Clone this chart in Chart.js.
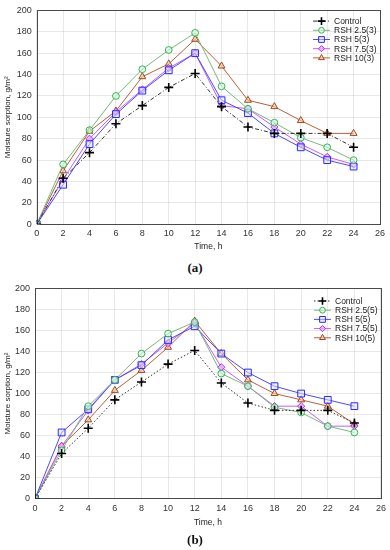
<!DOCTYPE html>
<html><head><meta charset="utf-8">
<script src="https://cdn.jsdelivr.net/npm/chart.js@4/dist/chart.umd.min.js"></script>
<style>
html,body{margin:0;padding:0;background:#fff;width:390px;height:550px;overflow:hidden;}
canvas{position:absolute;left:0;}
.cap{position:absolute;width:390px;left:0;text-align:center;font:bold 13px "Liberation Serif","DejaVu Serif",serif;color:#111;}
</style></head>
<body>
<canvas id="ca" width="390" height="258" style="top:0"></canvas>
<div class="cap" style="top:260px">(a)</div>
<canvas id="cb" width="390" height="256" style="top:278px"></canvas>
<div class="cap" style="top:532px">(b)</div>
<script>
// ---- data ----
const times = [0,2,4,6,8,10,12,14,16,18,20,22,24];
const xTicks = [0,2,4,6,8,10,12,14,16,18,20,22,24,26];
const yTicks = [0,20,40,60,80,100,120,140,160,180,200];

const labelsA = ["Control","RSH 2.5(3)","RSH 5(3)","RSH 7.5(3)","RSH 10(3)"];
const a_control = [0,43,67,94,111,128,141,110,91,85,85,85,72];
const a_rsh25   = [0,56,88,120,145,163,179,129,108,95,81,72,60];
const a_rsh5    = [0,37,75,103,125,144,160,116,104,85,72,60,54];
const a_rsh75   = [0,42,80,105,126,146,160,111,108,91,75,63,56];
const a_rsh10   = [0,50,87,106,138,150,173,148,116,110,97,85,85];

const labelsB = ["Control","RSH 2.5(5)","RSH 5(5)","RSH 7.5(5)","RSH 10(5)"];
const b_control = [0,43,67,94,111,128,141,110,91,84,84,84,72];
const b_rsh25   = [0,46,88,113,138,157,168,119,107,87,82,69,63];
const b_rsh5    = [0,63,85,113,127,151,164,138,120,107,100,94,88];
const b_rsh75   = [0,50,84,113,128,148,167,125,107,88,88,69,69];
const b_rsh10   = [0,50,75,103,122,144,169,138,113,100,94,88,71];

// ---- styles ----
const styles = [
  {line:'#333333', pt:'cross', r:4.5, bc:'#000', bg:'#000', bw:1.6},
  {line:'#7ab87a', pt:'circle', r:3.4, bc:'#3cb054', bg:'rgba(210,255,225,0.6)', bw:1},
  {line:'#4a4aff', pt:'rect', r:4.8, bc:'#2a2aff', bg:'rgba(225,225,255,0.5)', bw:1},
  {line:'#c45cff', pt:'rectRot', r:3.6, bc:'#b030f0', bg:'rgba(235,170,255,0.8)', bw:1},
  {line:'#b8603a', pt:'triangle', r:4, bc:'#9a4a1a', bg:'rgba(255,200,170,0.6)', bw:1}
];

function pts(arr){ return times.map((t,i)=>({x:t,y:arr[i]})); }

function makeDatasets(labels, series, ctrlDash){
  return series.map((s,i)=>{
    const st = styles[i];
    return {
      label: labels[i], data: pts(s),
      borderColor: st.line, borderWidth: 1, borderDash: i===0 ? ctrlDash : [],
      pointStyle: st.pt, pointRadius: st.r, pointBorderColor: st.bc,
      pointBackgroundColor: st.bg, pointBorderWidth: st.bw,
      fill:false, tension:0
    };
  });
}

const framePlugin = {
  id:'frame',
  beforeDatasetsDraw(chart){
    const {ctx, chartArea:a} = chart;
    ctx.save(); ctx.strokeStyle='#4a4a4a'; ctx.lineWidth=1;
    ctx.strokeRect(Math.round(a.left)+0.5, Math.round(a.top)+0.5, Math.round(a.right-a.left), Math.round(a.bottom-a.top));
    ctx.restore();
  },
  afterDraw(chart){
    const o = chart.options.plugins.frame;
    const {ctx, chartArea:a} = chart;
    ctx.save();
    chart.data.datasets.forEach((ds,i)=>{
      const y = a.top + o.legTop + i*9.2;
      const x0 = a.right - o.legRight;
      ctx.strokeStyle = ds.borderColor; ctx.lineWidth = 1;
      ctx.setLineDash(ds.borderDash || []);
      ctx.beginPath(); ctx.moveTo(x0, y); ctx.lineTo(x0+17, y); ctx.stroke();
      ctx.setLineDash([]);
      Chart.helpers.drawPoint(ctx, {pointStyle: ds.pointStyle, radius: ds.pointRadius*0.85, borderWidth: ds.pointBorderWidth, rotation:0}, x0+8.5, y);
      ctx.fillStyle = ds.pointBackgroundColor; ctx.strokeStyle = ds.pointBorderColor;
      ctx.beginPath();
      ctx.fillStyle='#222'; ctx.font='8.5px "Liberation Sans", Arial, sans-serif';
      ctx.textBaseline='middle'; ctx.textAlign='left';
      ctx.fillText(ds.label, x0+21, y+0.5);
    });
    ctx.restore();
  }
};

// drawPoint needs stroke/fill set before; wrap
const origDraw = Chart.helpers.drawPoint;

function makeChart(id, labels, series, ctrlDash, geo){
  const H = geo.H;
  return new Chart(document.getElementById(id), {
    type:'line',
    data:{datasets: makeDatasets(labels, series, ctrlDash)},
    options:{
      responsive:false, animation:false, devicePixelRatio:1,
      layout:{padding:{top:geo.top, right:geo.right, bottom:0, left:0}},
      plugins:{legend:{display:false}, tooltip:{enabled:false},
        frame:{legTop:geo.legTop, legRight:geo.legRight}},
      scales:{
        x:{type:'linear', min:0, max:26,
          afterBuildTicks(s){ s.ticks = xTicks.map(v=>({value:v})); },
          afterFit(s){ s.height = H - geo.bottom; },
          grid:{color:'rgba(0,0,0,0.09)', drawTicks:false, lineWidth:1},
          border:{display:false},
          ticks:{padding:4, color:'#333', font:{size:9, family:'"Liberation Sans", Arial, sans-serif'}, maxRotation:0},
          title:{display:true, text:'Time, h', color:'#222', padding:{top:2,bottom:geo.xtPad}, font:{size:8.5, family:'"Liberation Sans", Arial, sans-serif'}}
        },
        y:{type:'linear', min:0, max:200,
          afterBuildTicks(s){ s.ticks = yTicks.map(v=>({value:v})); },
          afterFit(s){ s.width = geo.left; },
          grid:{color:'rgba(0,0,0,0.09)', drawTicks:false, lineWidth:1},
          border:{display:false},
          ticks:{padding:5, color:'#333', font:{size:9, family:'"Liberation Sans", Arial, sans-serif'}},
          title:{display:true, text:'Moisture sorption, g/m²', color:'#222', padding:{top:3,bottom:0}, font:{size:8, family:'"Liberation Sans", Arial, sans-serif'}}
        }
      }
    },
    plugins:[framePlugin]
  });
}

// Patch legend marker drawing colours
framePlugin.afterDraw = function(chart){
  const o = chart.options.plugins.frame;
  const {ctx, chartArea:a} = chart;
  ctx.save();
  chart.data.datasets.forEach((ds,i)=>{
    const y = a.top + o.legTop + i*9.2;
    const x0 = a.right - o.legRight;
    ctx.strokeStyle = ds.borderColor; ctx.lineWidth = 1;
    ctx.setLineDash(ds.borderDash || []);
    ctx.beginPath(); ctx.moveTo(x0, y); ctx.lineTo(x0+17, y); ctx.stroke();
    ctx.setLineDash([]);
    ctx.fillStyle = ds.pointBackgroundColor; ctx.strokeStyle = ds.pointBorderColor; ctx.lineWidth = ds.pointBorderWidth;
    Chart.helpers.drawPoint(ctx, {pointStyle: ds.pointStyle, radius: ds.pointRadius*0.85, borderWidth: ds.pointBorderWidth, rotation:0}, x0+8.5, y);
    ctx.fillStyle='#222'; ctx.font='8.5px "Liberation Sans", Arial, sans-serif';
    ctx.textBaseline='middle'; ctx.textAlign='left';
    ctx.fillText(ds.label, x0+21, y+0.5);
  });
  ctx.restore();
};

makeChart('ca', labelsA, [a_control,a_rsh25,a_rsh5,a_rsh75,a_rsh10], [4,2,1,2],
  {H:258, top:7.3, bottom:224.3, left:36.7, right:10, legTop:10.7, legRight:67, xtPad:6});
makeChart('cb', labelsB, [b_control,b_rsh25,b_rsh5,b_rsh75,b_rsh10], [1.5,2],
  {H:256, top:7.7, bottom:220.7, left:35, right:8.3, legTop:12.6, legRight:67, xtPad:6});
</script>
</body></html>
